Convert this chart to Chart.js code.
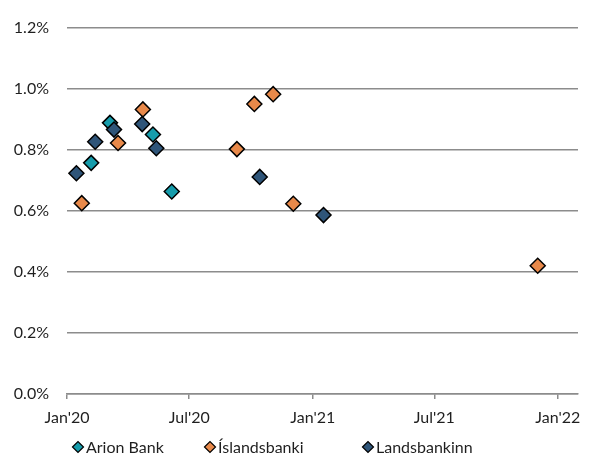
<!DOCTYPE html>
<html>
<head>
<meta charset="utf-8">
<script src="https://cdn.jsdelivr.net/npm/chart.js@4/dist/chart.umd.min.js"></script>
<style>
  body { margin: 0; background: #fff; }
  #wrap { width: 590px; height: 459px; }
</style>
</head>
<body>
<div id="wrap"><canvas id="chart" width="590" height="459"></canvas></div>
<script>
// Series: issue date and rate (%)
const arionDates = ['2020-02-06', '2020-03-05', '2020-05-08', '2020-06-05'];
const arionValues = [0.757, 0.888, 0.850, 0.663];

const islandsDates = ['2020-01-23', '2020-03-17', '2020-04-23', '2020-09-10', '2020-10-06', '2020-11-03', '2020-12-03', '2021-12-02'];
const islandsValues = [0.625, 0.822, 0.932, 0.802, 0.950, 0.982, 0.623, 0.420];

const landsDates = ['2020-01-15', '2020-02-12', '2020-03-11', '2020-04-22', '2020-05-13', '2020-10-14', '2021-01-17'];
const landsValues = [0.723, 0.826, 0.866, 0.884, 0.805, 0.711, 0.586];

// x axis ticks
const tickDates = ['2020-01-01', '2020-07-01', '2021-01-01', '2021-07-01', '2022-01-01'];
const tickLabels = ["Jan'20", "Jul'20", "Jan'21", "Jul'21", "Jan'22"];
const xMin = '2020-01-01';
const xMax = '2022-01-31';

function toMs(s) {
    return Date.parse(s + 'T00:00:00Z');
}

function toPoints(dates, values) {
    return dates.map((d, i) => ({ x: toMs(d), y: values[i] }));
}

const textColor = '#1f1f1f';
const gridColor = '#8c8c8c';
const fontFamily = 'Lato, "Open Sans", sans-serif';

// Legend layout (Excel-style slots under the plot)
const legendSlotX = [78, 210, 368];
const legendY = 447;

function makeDataset(label, dates, values, color, order) {
    return {
        label: label,
        data: toPoints(dates, values),
        backgroundColor: color,
        borderColor: '#000000',
        borderWidth: 1.5,
        pointStyle: 'rectRot',
        pointRadius: 7.5,
        pointHoverRadius: 7.5,
        order: order
    };
}

// Draws the legend row with the dataset labels and colours
const slotLegend = {
    id: 'slotLegend',
    afterDraw(chart) {
        const c = chart.ctx;
        c.save();
        c.font = '16px ' + fontFamily;
        c.textBaseline = 'middle';
        c.textAlign = 'left';
        chart.data.datasets.forEach((ds, i) => {
            const x = legendSlotX[i];
            const r = 5.5;
            c.beginPath();
            c.moveTo(x - r, legendY);
            c.lineTo(x, legendY - r);
            c.lineTo(x + r, legendY);
            c.lineTo(x, legendY + r);
            c.closePath();
            c.fillStyle = ds.backgroundColor;
            c.fill();
            c.lineWidth = 1.2;
            c.strokeStyle = '#000';
            c.stroke();
            c.fillStyle = textColor;
            c.fillText(ds.label, x + 8, legendY + 1);
        });
        c.restore();
    }
};

const ctx = document.getElementById('chart').getContext('2d');
new Chart(ctx, {
    type: 'scatter',
    data: {
        datasets: [
            makeDataset('Arion Bank', arionDates, arionValues, '#169cab', 2),
            makeDataset('Íslandsbanki', islandsDates, islandsValues, '#e8894a', 1),
            makeDataset('Landsbankinn', landsDates, landsValues, '#2f5579', 0)
        ]
    },
    plugins: [slotLegend],
    options: {
        responsive: false,
        animation: false,
        layout: { padding: { top: 21, right: 12, bottom: 0, left: 0 } },
        plugins: {
            tooltip: { enabled: false },
            legend: { display: false }
        },
        scales: {
            x: {
                type: 'linear',
                min: toMs(xMin),
                max: toMs(xMax),
                afterBuildTicks: function(scale) {
                    scale.ticks = tickDates.map(d => ({ value: toMs(d) }));
                },
                afterFit: function(scale) {
                    scale.height = 65;
                },
                grid: {
                    drawOnChartArea: false,
                    drawTicks: true,
                    tickLength: 5,
                    color: gridColor,
                    lineWidth: 1.5
                },
                border: { display: true, color: gridColor, width: 1.5 },
                ticks: {
                    autoSkip: false,
                    maxRotation: 0,
                    padding: 9,
                    color: textColor,
                    font: { family: fontFamily, size: 16 },
                    callback: function(value) {
                        const i = tickDates.findIndex(d => toMs(d) === value);
                        return i >= 0 ? tickLabels[i] : '';
                    }
                }
            },
            y: {
                min: 0,
                max: 1.2,
                afterFit: function(scale) {
                    scale.width = 67;
                },
                grid: {
                    drawTicks: false,
                    color: gridColor,
                    lineWidth: 1.5
                },
                border: { display: false },
                ticks: {
                    stepSize: 0.2,
                    padding: 18,
                    color: textColor,
                    font: { family: fontFamily, size: 16 },
                    callback: v => v.toFixed(1) + '%'
                }
            }
        }
    }
});
</script>
</body>
</html>
